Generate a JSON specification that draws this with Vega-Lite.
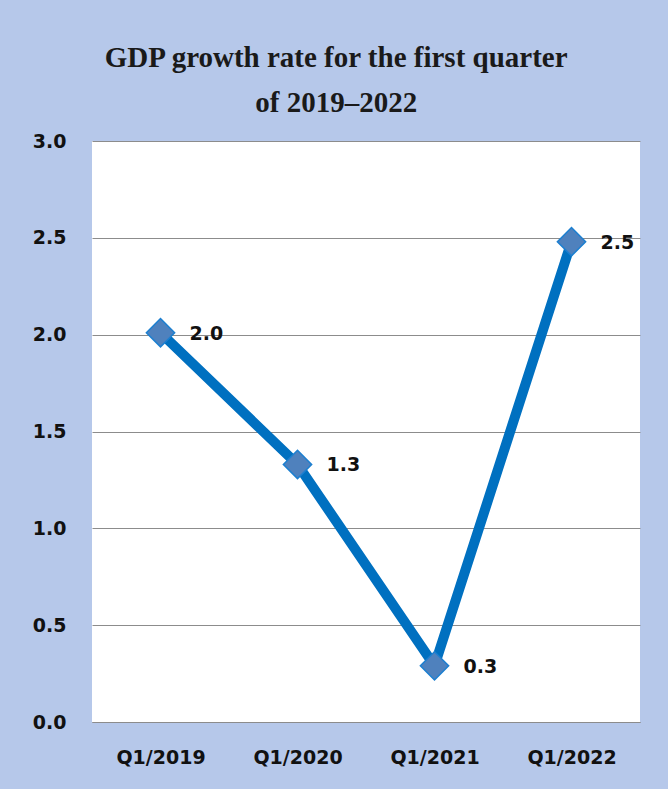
{
  "$schema": "https://vega.github.io/schema/vega-lite/v6.json",
  "width": 548,
  "height": 581,
  "autosize": {"type": "none"},
  "padding": {"left": 92, "top": 141, "right": 28, "bottom": 67},
  "background": "#B6C8EA",
  "title": {
    "text": ["GDP growth rate for the first quarter", "of  2019–2022"],
    "font": "Liberation Serif",
    "fontSize": 29,
    "fontWeight": "bold",
    "color": "#1a1a1a",
    "lineHeight": 45,
    "anchor": "middle",
    "frame": "bounds",
    "offset": 14
  },
  "config": {
    "view": {"fill": "white", "stroke": null},
    "axis": {
      "labelFont": "DejaVu Sans",
      "labelFontSize": 19,
      "labelFontWeight": "bold",
      "labelColor": "#111111",
      "ticks": false,
      "title": null
    }
  },
  "data": {
    "values": [
      {"quarter": "Q1/2019", "rate": 2.01},
      {"quarter": "Q1/2020", "rate": 1.33},
      {"quarter": "Q1/2021", "rate": 0.29},
      {"quarter": "Q1/2022", "rate": 2.48}
    ]
  },
  "encoding": {
    "x": {
      "field": "quarter",
      "type": "ordinal",
      "sort": null,
      "scale": {"type": "point", "padding": 0.5},
      "axis": {"labelAngle": 0, "labelPadding": 26, "domainColor": "#8c8c8c", "domainWidth": 1, "grid": false}
    },
    "y": {
      "field": "rate",
      "type": "quantitative",
      "scale": {"domain": [0, 3], "nice": false},
      "axis": {"values": [0, 0.5, 1, 1.5, 2, 2.5, 3], "format": ".1f", "labelPadding": 26, "domain": false, "grid": true, "gridColor": "#8c8c8c", "gridWidth": 1}
    }
  },
  "layer": [
    {"mark": {"type": "line", "color": "#0070C0", "strokeWidth": 10}},
    {"mark": {"type": "point", "shape": "diamond", "size": 800, "filled": true, "fill": "#4F81BD", "stroke": "#1C7FD0", "strokeWidth": 1.5, "opacity": 1}},
    {
      "mark": {"type": "text", "align": "left", "dx": 29, "dy": 1, "font": "DejaVu Sans", "fontSize": 19, "fontWeight": "bold", "color": "#111111"},
      "encoding": {"text": {"field": "rate", "type": "quantitative", "format": ".1f"}}
    }
  ]
}
